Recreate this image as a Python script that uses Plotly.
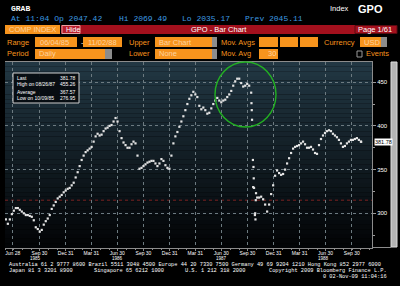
import plotly.graph_objects as go
import pandas as pd

# ---------------- data ----------------
week_start = "1985-06-04"
weekly_values = [
    293, 288, 293, 299, 303, 306, 306, 304, 302, 300,
    298, 298, 297, 296, 292, 284, 282, 279, 281, 287,
    291, 294, 298, 305, 309, 313, 317, 319, 321, 324,
    326, 328, 329, 332, 335, 341, 347, 354, 361, 366,
    370, 372, 374, 376, 382, 388, 391, 389, 390, 394,
    397, 398, 400, 401, 405, 409, 405, 394, 386, 381,
    378, 375, 375, 379, 382, 380, 366, 351, 352, 354,
    356, 358, 359, 360, 360, 357, 354, 357, 362, 360,
    355, 352, 351, 366, 380, 388, 393, 399, 405, 411,
    418, 425, 431, 435, 439, 436, 433, 423, 419, 421,
    418, 414, 415, 420, 425, 429, 432, 429, 427, 429,
    430, 433, 436, 440, 446, 451, 454, 454, 449, 445,
    446, 448, 446, 438, 330, 300, 318, 318, 319, 316,
    310, 302, 310, 322, 332, 343, 349, 346, 344, 345,
    350, 357, 363, 369, 374, 376, 377, 378, 380, 382,
    379, 375, 375, 376, 373, 369, 368, 378, 385, 389,
    392, 394, 395, 394, 391, 389, 387, 384, 380, 376,
    377, 380, 382, 384, 384, 385, 386, 384, 382,
]
crash_dates = ["1987-10-14", "1987-10-15", "1987-10-16", "1987-10-19", "1987-10-21",
               "1987-10-22", "1987-10-23", "1987-10-26", "1987-10-28", "1987-10-29", "1987-10-30"]
crash_values = [426, 418, 407, 361, 353, 340, 329, 298, 293, 315, 323]
last_date = "1988-11-02"
last_value = 381.78

x_tick_dates = ["1985-06-28", "1985-09-30", "1985-12-31", "1986-03-31", "1986-06-30",
                "1986-09-30", "1986-12-31", "1987-03-31", "1987-06-30", "1987-09-30",
                "1987-12-31", "1988-03-31", "1988-06-30", "1988-09-30"]
x_tick_text = ["Jun 28", "Sep 30", "Dec 31", "Mar 31", "Jun 30", "Sep 30", "Dec 31",
               "Mar 31", "Jun 30", "Sep 30", "Dec 31", "Mar 31", "Jun 30", "Sep 30"]
year_labels = ["1985", "1986", "1987", "1988"]
year_label_dates = ["1985-09-15", "1986-06-30", "1987-06-30", "1988-06-24"]
y_tick_vals = [300, 350, 400, 450]

stats_labels = ["Last", "High on 08/26/87", "Average", "Low on 10/09/85"]
stats_values = ["381.78", "455.26", "367.57", "276.95"]

# ---------------- helpers ----------------
W, H = 400, 286
def fx(p): return p / W
def fy(p): return 1 - p / H

PL, PR, PT, PB = 5, 372, 62, 248
ORANGE = "#f7941d"
BOXTXT = "#fcd3a0"
GRID = "#6c7a80"
MONO = "Liberation Mono, DejaVu Sans Mono, monospace"
SANS = "Liberation Sans, Arial, sans-serif"

dates = pd.date_range(week_start, periods=len(weekly_values), freq="7D")

fig = go.Figure()
mk = dict(symbol="square", size=2.2, color="#e4e4e4", line=dict(width=0))
fig.add_trace(go.Scatter(x=dates, y=weekly_values, mode="markers", marker=mk,
                         hoverinfo="skip", showlegend=False))
fig.add_trace(go.Scatter(x=pd.to_datetime(crash_dates), y=crash_values, mode="markers",
                         marker=mk, hoverinfo="skip", showlegend=False))
fig.add_trace(go.Scatter(x=[pd.Timestamp(last_date)], y=[last_value], mode="markers",
                         marker=mk, hoverinfo="skip", showlegend=False))

shapes = []
annots = []

# plot-area gradient
n = 40
top_c = (34, 56, 68)
bot_c = (2, 3, 5)
for k in range(n):
    t = (k + 0.5) / n
    c = tuple(round(top_c[j] + (bot_c[j] - top_c[j]) * t) for j in range(3))
    shapes.append(dict(type="rect", xref="x domain", yref="y domain", x0=0, x1=1,
                       y0=1 - (k + 1) / n, y1=1 - k / n, fillcolor="rgb(%d,%d,%d)" % c,
                       line=dict(width=0), layer="below"))

# faint red dotted reference line
shapes.append(dict(type="line", xref="x domain", yref="y", x0=0, x1=1, y0=315, y1=315,
                   line=dict(color="#7a2020", width=1, dash="dot"), layer="below"))

# green highlight circle
shapes.append(dict(type="circle", xref="paper", yref="paper", x0=fx(215), x1=fx(276),
                   y0=fy(127), y1=fy(62), line=dict(color="#22b022", width=1.4)))

# stats box
shapes.append(dict(type="rect", xref="paper", yref="paper", x0=fx(13), x1=fx(79),
                   y0=fy(103), y1=fy(73), fillcolor="rgba(6,10,14,0.9)",
                   line=dict(color="#cfcfcf", width=1)))
for i, (lab, val) in enumerate(zip(stats_labels, stats_values)):
    yy = 77.5 + i * 7
    annots.append(dict(x=fx(15), y=fy(yy), text=lab, xanchor="left", yanchor="middle",
                       font=dict(family=SANS, size=5, color="white")))
    annots.append(dict(x=fx(77.5), y=fy(yy), text=val, xanchor="right", yanchor="middle",
                       font=dict(family=SANS, size=5, color="white")))

# right scrollbar + axis box
shapes.append(dict(type="rect", xref="paper", yref="paper", x0=fx(391), x1=fx(397),
                   y0=fy(247), y1=fy(62), fillcolor="#b4b4b4", line=dict(color="#dcdcdc", width=1)))
shapes.append(dict(type="line", xref="paper", yref="paper", x0=fx(372), x1=fx(391),
                   y0=fy(247.5), y1=fy(247.5), line=dict(color="#8c8c8c", width=1)))

# last price tag
annots.append(dict(x=fx(374), xref="paper", y=last_value, yref="y", text="381.78",
                   xanchor="left", yanchor="middle", bgcolor="white", borderpad=0,
                   font=dict(family=SANS, size=5.5, color="black")))

# year labels
for lab, d in zip(year_labels, year_label_dates):
    annots.append(dict(x=d, xref="x", y=fy(258), yref="paper", text=lab, xanchor="center",
                       yanchor="middle", font=dict(family=SANS, size=4.5, color="white")))

# ---------------- header ----------------
def txt(x, y, s, color, size, family=SANS, anchor="left"):
    annots.append(dict(x=fx(x), y=fy(y), text=s, xanchor=anchor, yanchor="middle",
                       font=dict(family=family, size=size, color=color)))

def box(x0, x1, y0, y1, color, line=None):
    shapes.append(dict(type="rect", xref="paper", yref="paper", x0=fx(x0), x1=fx(x1),
                       y0=fy(y1), y1=fy(y0), fillcolor=color,
                       line=dict(width=1 if line else 0, color=line or color)))

BLUE = "#3d9be0"
txt(9, 8, "<b>GRAB</b>", "white", 8, MONO)
txt(9, 18.5, "At 11:04 Op 2047.42", BLUE, 8, MONO)
txt(117, 18.5, "Hi 2069.49", BLUE, 8, MONO)
txt(180, 18.5, "Lo 2035.17", BLUE, 8, MONO)
txt(243, 18.5, "Prev 2045.11", BLUE, 8, MONO)
txt(328, 9, "Index", "white", 7.5, SANS)
txt(356, 9, "<b>GPO</b>", "white", 11, SANS)

# row 2
box(5, 60, 25, 34, ORANGE)
txt(7, 29.5, "COMP INDEX", BOXTXT, 7.5, SANS)
box(61, 397, 25, 34, "#a3101d")
box(62, 80, 25.5, 33.5, "#b81d2c", "#e8a0a0")
txt(64, 29.5, "Hide", "white", 7, SANS)
txt(219, 29.5, "GPO - Bar Chart", "white", 7.5, SANS, "center")
box(355, 397, 25.5, 33.5, "#a3101d", "#5a0a10")
txt(394, 29.5, "Page 1/61", "white", 7.5, SANS, "right")

# row 3
y3a, y3b, y3 = 37, 47, 42
txt(5, y3, "Range", ORANGE, 7.5)
box(35, 77, y3a, y3b, ORANGE)
txt(38, y3, "06/04/85", BOXTXT, 7.5)
txt(79, y3, "-", "white", 7.5)
box(83, 122, y3a, y3b, ORANGE)
txt(86, y3, "11/02/88", BOXTXT, 7.5)
txt(127, y3, "Upper", ORANGE, 7.5)
box(155, 212, y3a, y3b, ORANGE)
box(212, 217, y3a, y3b, "#8c8c8c")
txt(157, y3, "Bar Chart", BOXTXT, 7.5)
txt(219, y3, "Mov. Avgs", ORANGE, 7.5)
box(259, 278, y3a, y3b, ORANGE)
box(280, 298, y3a, y3b, ORANGE)
box(300, 318, y3a, y3b, ORANGE)
txt(322, y3, "Currency", ORANGE, 7.5)
box(360, 381, y3a, y3b, ORANGE)
box(381, 387, y3a, y3b, "#8c8c8c")
txt(362, y3, "USD", BOXTXT, 7.5)

# row 4
y4a, y4b, y4 = 49, 59, 54
txt(5, y4, "Period", ORANGE, 7.5)
box(35, 105, y4a, y4b, ORANGE)
box(105, 112, y4a, y4b, "#8c8c8c")
txt(37, y4, "Daily", BOXTXT, 7.5)
txt(127, y4, "Lower", ORANGE, 7.5)
box(155, 212, y4a, y4b, ORANGE)
box(212, 217, y4a, y4b, "#8c8c8c")
txt(157, y4, "None", BOXTXT, 7.5)
txt(219, y4, "Mov. Avg", ORANGE, 7.5)
box(259, 278, y4a, y4b, ORANGE)
txt(266, y4, "30", BOXTXT, 7.5)
box(357, 362, 51, 57, "#000000", "#9a9a9a")
txt(364, y4, "Events", ORANGE, 7.5)

# footer
FOOT = 5.3
txt(7, 265, "Australia 61 2 9777 8600 Brazil 5511 3048 4500 Europe 44 20 7330 7500 Germany 49 69 9204 1210 Hong Kong 852 2977 6000",
    "white", FOOT, MONO)
txt(7, 271, "Japan 81 3 3201 8900", "white", FOOT, MONO)
txt(92, 271, "Singapore 65 6212 1000", "white", FOOT, MONO)
txt(183, 271, "U.S. 1 212 318 2000", "white", FOOT, MONO)
txt(389, 271, "Copyright 2009 Bloomberg Finance L.P.", "white", FOOT, MONO, "right")
txt(389, 277, "0 02-Nov-09 11:04:16", "white", FOOT, MONO, "right")

for a in annots:
    a.setdefault("xref", "paper")
    a.setdefault("yref", "paper")
    a["showarrow"] = False

fig.update_layout(
    width=W, height=286,
    margin=dict(l=0, r=0, t=0, b=0),
    paper_bgcolor="black",
    plot_bgcolor="black",
    showlegend=False,
    shapes=shapes,
    annotations=annots,
    xaxis=dict(
        type="date",
        domain=[fx(PL), fx(PR)],
        range=["1985-06-01", "1988-12-10"],
        tickvals=x_tick_dates, ticktext=x_tick_text,
        tickfont=dict(family=SANS, size=5, color="white"),
        showgrid=True, gridcolor=GRID, griddash="dot", gridwidth=1,
        showline=True, linecolor="#8c8c8c", linewidth=1, mirror=True,
        ticks="outside", ticklen=2, tickcolor="#8c8c8c",
        ticklabelstandoff=-2,
        minor=dict(ticks="outside", ticklen=1, tickcolor="#8c8c8c", dtick="M1",
                   tick0="1985-06-01", showgrid=False),
        zeroline=False, fixedrange=True,
    ),
    yaxis=dict(
        domain=[fy(PB), fy(PT)],
        range=[260.3, 473.1],
        side="right",
        tickvals=y_tick_vals,
        tickfont=dict(family=SANS, size=6, color="white"),
        showgrid=True, gridcolor=GRID, griddash="dot", gridwidth=1,
        showline=True, linecolor="#8c8c8c", linewidth=1,
        ticks="outside", ticklen=3, tickcolor="#9a9a9a",
        minor=dict(ticks="outside", ticklen=2, tickcolor="#9a9a9a",
                   tickvals=[275, 325, 375, 425, 475], showgrid=False),
        zeroline=False, fixedrange=True,
    ),
)

fig.write_html("out.html")
